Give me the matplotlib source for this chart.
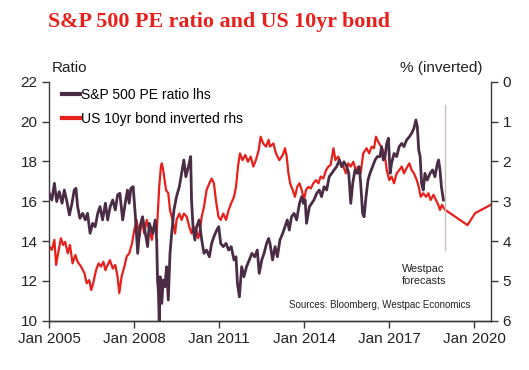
import matplotlib
matplotlib.use("Agg")
import matplotlib.pyplot as plt

# S&P 500 PE ratio (lhs), decimal years
pe_years = [
    2005.0, 2005.09, 2005.18, 2005.26, 2005.35, 2005.45, 2005.53, 2005.61, 2005.71, 2005.8,
    2005.88, 2005.94, 2006.0, 2006.08, 2006.18, 2006.27, 2006.35, 2006.44, 2006.53, 2006.62,
    2006.71, 2006.79, 2006.88, 2006.98, 2007.06, 2007.15, 2007.24, 2007.33, 2007.41, 2007.49,
    2007.59, 2007.68, 2007.76, 2007.82, 2007.88, 2007.96, 2008.04, 2008.12, 2008.2, 2008.29,
    2008.39, 2008.47, 2008.53, 2008.65, 2008.74, 2008.79, 2008.82, 2008.85, 2008.88,
    2008.91, 2008.97, 2009.02, 2009.08, 2009.14, 2009.2, 2009.26, 2009.32, 2009.4, 2009.49,
    2009.59, 2009.67, 2009.75, 2009.82, 2009.91, 2009.99, 2010.02, 2010.08, 2010.14, 2010.2,
    2010.29, 2010.38, 2010.46, 2010.55, 2010.65, 2010.73, 2010.81, 2010.91, 2010.98, 2011.05,
    2011.14, 2011.24, 2011.33, 2011.42, 2011.52, 2011.59, 2011.64, 2011.71, 2011.79, 2011.87,
    2011.96, 2012.06, 2012.15, 2012.25, 2012.34, 2012.41, 2012.5, 2012.58, 2012.67, 2012.74,
    2012.79, 2012.88, 2012.97, 2013.05, 2013.14, 2013.24, 2013.32, 2013.4, 2013.47, 2013.55,
    2013.64, 2013.73, 2013.83, 2013.91, 2013.97, 2014.03, 2014.08, 2014.18, 2014.26, 2014.34,
    2014.44, 2014.53, 2014.61, 2014.7, 2014.79, 2014.88, 2014.97, 2015.05, 2015.14, 2015.24,
    2015.32, 2015.4, 2015.5, 2015.57, 2015.64, 2015.71, 2015.79, 2015.87, 2015.94, 2015.99,
    2016.06, 2016.11, 2016.18, 2016.25, 2016.32, 2016.41, 2016.5, 2016.58, 2016.67, 2016.73,
    2016.79, 2016.85, 2016.91, 2016.97, 2017.03, 2017.08, 2017.17, 2017.26, 2017.35, 2017.44,
    2017.52, 2017.61, 2017.71, 2017.79, 2017.87, 2017.94, 2017.99, 2018.04, 2018.09, 2018.14,
    2018.2, 2018.26, 2018.34, 2018.44, 2018.53, 2018.61, 2018.7, 2018.74, 2018.79, 2018.84,
    2018.91,
]
pe_ratio = [
    16.4, 16.06, 16.9, 15.98, 16.48, 15.9, 16.56, 16.06, 15.31, 15.9,
    16.56, 16.65, 15.73, 15.14, 15.39, 15.06, 15.39, 14.39, 14.89, 14.72,
    15.39, 15.73, 15.06, 15.9, 15.06, 15.73, 16.06, 15.56, 16.31, 16.4,
    15.06, 15.9, 16.56, 15.9, 16.65, 16.73, 15.22, 13.38, 14.72, 15.22,
    14.39, 13.72, 14.89, 14.39, 15.06, 14.05, 12.04, 11.5, 10.0,
    12.21, 10.87, 12.04, 11.71, 12.71, 11.04, 13.38, 14.39, 15.56, 16.23,
    16.73, 17.4, 18.07, 17.23, 17.73, 18.24, 16.06, 14.55, 14.05, 14.72,
    15.06, 14.05, 13.38, 13.55, 13.21, 13.88, 14.22, 14.55, 14.72, 13.88,
    13.72, 13.88, 13.55, 13.72, 13.05, 13.21, 11.88, 11.2, 12.71, 12.21,
    12.71, 13.05, 13.38, 13.21, 13.55, 12.38, 13.05, 13.38, 13.88, 14.13,
    13.88, 13.05, 13.72, 13.21, 14.05, 14.39, 14.72, 15.06, 14.55, 15.22,
    15.39, 15.06, 15.89, 16.23, 15.89, 16.06, 14.89, 15.72, 15.89, 16.06,
    16.4, 16.56, 16.23, 16.73, 16.56, 17.23, 17.4, 17.57, 17.73, 18.07,
    17.73, 17.98, 17.73, 17.4, 15.89, 16.9, 17.57, 17.4, 17.73, 16.9,
    15.39, 15.22, 16.23, 17.06, 17.4, 17.73, 18.07, 18.24, 18.24, 18.74,
    18.07, 18.24, 18.9, 19.16, 17.4, 17.9, 18.4, 18.24, 18.74, 18.9,
    18.74, 19.07, 19.24, 19.41, 19.66, 20.08, 19.74, 18.57, 18.24, 16.9,
    16.56, 17.4, 17.06, 17.4, 17.57, 17.23, 17.9, 18.07, 17.57, 16.73,
    16.06,
]

# US 10yr bond yield (rhs, inverted), decimal years
bond_years = [
    2005.0, 2005.09, 2005.18, 2005.24, 2005.33, 2005.41, 2005.49, 2005.56, 2005.65, 2005.73,
    2005.82, 2005.92, 2006.0, 2006.12, 2006.24, 2006.32, 2006.41, 2006.48, 2006.55, 2006.65,
    2006.74, 2006.82, 2006.91, 2006.98, 2007.06, 2007.14, 2007.24, 2007.33, 2007.41, 2007.47,
    2007.55, 2007.65, 2007.73, 2007.82, 2007.92, 2008.0, 2008.08, 2008.18, 2008.27, 2008.35,
    2008.44, 2008.53, 2008.62, 2008.71, 2008.79, 2008.88, 2008.94,
    2008.97, 2009.02, 2009.12, 2009.2, 2009.26, 2009.35, 2009.44, 2009.49, 2009.59, 2009.67,
    2009.75, 2009.85, 2009.94, 2010.02, 2010.08, 2010.18, 2010.26, 2010.32, 2010.38, 2010.46,
    2010.55, 2010.65, 2010.73, 2010.81, 2010.88, 2010.97, 2011.05, 2011.14, 2011.24, 2011.33,
    2011.42, 2011.52, 2011.59, 2011.66, 2011.73, 2011.82, 2011.92, 2012.01, 2012.11, 2012.2,
    2012.29, 2012.39, 2012.46, 2012.55, 2012.65, 2012.74,
    2012.79, 2012.91, 2013.0, 2013.12, 2013.24, 2013.32, 2013.38, 2013.44, 2013.5, 2013.59,
    2013.67, 2013.75, 2013.83, 2013.91, 2013.99, 2014.06, 2014.14, 2014.23, 2014.32, 2014.41,
    2014.5, 2014.58, 2014.67, 2014.77, 2014.85, 2014.93, 2015.03, 2015.1, 2015.2, 2015.28,
    2015.38, 2015.47, 2015.55, 2015.64, 2015.73, 2015.82, 2015.91, 2015.99, 2016.08, 2016.2,
    2016.29, 2016.38, 2016.46, 2016.53, 2016.61,
    2016.77, 2016.85, 2016.91, 2017.0, 2017.08, 2017.17, 2017.26, 2017.35, 2017.44, 2017.52,
    2017.61, 2017.71, 2017.79, 2017.87, 2017.97, 2018.04, 2018.11, 2018.2, 2018.3, 2018.38,
    2018.46, 2018.56, 2018.65, 2018.73, 2018.79, 2018.86, 2018.93,
]
bond_yield = [
    4.14, 4.22, 3.97, 4.6, 4.23, 3.93, 4.1, 4.02, 4.31, 4.1,
    4.56, 4.35, 4.52, 4.64, 4.81, 5.06, 4.98, 5.23, 5.06, 4.73,
    4.56, 4.64, 4.52, 4.73, 4.6, 4.48, 4.69, 4.6, 4.9, 5.31,
    4.9, 4.64, 4.39, 4.31, 4.06, 3.72, 3.47, 3.89, 3.47, 3.81,
    3.47, 3.72, 3.97, 3.56, 3.81, 2.64, 2.13,
    2.05, 2.22, 2.72, 2.8, 3.22, 3.47, 3.81, 3.47, 3.31, 3.47,
    3.31, 3.39, 3.64, 3.81, 3.64, 3.72, 3.93, 3.72, 3.39, 3.14,
    2.72, 2.55, 2.43, 2.55, 2.97, 3.39, 3.47, 3.31, 3.47, 3.22,
    3.05, 2.89, 2.64, 2.13, 1.8, 1.97, 1.84, 2.01, 1.88, 2.13,
    1.97, 1.72, 1.38, 1.55, 1.63, 1.46,
    1.63, 1.55, 1.8, 1.97, 1.84, 1.67, 1.88, 2.3, 2.55, 2.72,
    2.89, 2.64, 2.55, 2.72, 2.97, 2.72, 2.64, 2.68, 2.55, 2.47,
    2.55, 2.38, 2.43, 2.22, 2.13, 2.09, 1.67, 1.97, 1.88, 2.05,
    2.13, 2.3, 2.05, 2.13, 2.01, 2.22, 2.13, 2.3, 1.8, 1.67,
    1.8, 1.63, 1.67, 1.38, 1.51,
    1.71, 1.88, 2.22, 2.47, 2.38, 2.55, 2.3, 2.22, 2.13, 2.3,
    2.17, 2.05, 2.22, 2.3, 2.47, 2.64, 2.89, 2.8, 2.89, 2.8,
    2.97, 2.84, 2.97, 3.09, 3.22, 3.09, 3.18,
]

# Westpac forecasts
fc_years = [2018.98, 2019.76, 2020.03, 2020.58]
fc_yield = [3.22, 3.6, 3.3, 3.09]

x_ticks = [2005, 2008, 2011, 2014, 2017, 2020]
x_labels = [f"Jan {y}" for y in x_ticks]

PURPLE = "#4b2c45"
RED = "#e8201c"
GREY = "#3a3a3a"

plt.rcParams["font.family"] = ["Liberation Sans", "DejaVu Sans"]

fig = plt.figure(figsize=(5.29, 3.70), dpi=100)
ax = fig.add_axes([0.0932, 0.1332, 0.8344, 0.646])
ax2 = ax.twinx()

ax.plot(pe_years, pe_ratio, color=PURPLE, lw=2.0, label="S&P 500 PE ratio lhs", zorder=3)
ax2.plot(bond_years, bond_yield, color=RED, lw=1.6, zorder=2)
ax2.plot(fc_years, fc_yield, color=RED, lw=1.6, zorder=2)
ax.plot([], [], color=RED, lw=2.0, label="US 10yr bond inverted rhs")

ax.set_xlim(2005.0, 2020.58)
ax.set_ylim(10, 22)
ax2.set_ylim(6, 0)
ax.set_yticks(range(10, 23, 2))
ax2.set_yticks(range(0, 7))
ax.set_xticks(x_ticks)
ax.set_xticklabels(x_labels)

# forecast divider
ax.plot([2018.98, 2018.98], [13.55, 20.83], color="#c8c0b8", lw=1.0, zorder=1)

ax.set_zorder(ax2.get_zorder() + 1)
ax.patch.set_visible(False)

for a in (ax, ax2):
    for side in a.spines.values():
        side.set_color(GREY)
        side.set_linewidth(1.0)
    a.tick_params(colors=GREY, labelcolor="#222222", labelsize=11, length=5, width=1.0, direction="out")
ax.spines["top"].set_visible(False)
ax2.spines["top"].set_visible(False)
ax.spines["right"].set_visible(False)
ax2.spines["left"].set_visible(False)
ax.tick_params(axis="x", pad=3)

leg = ax.legend(loc="upper left", bbox_to_anchor=(0.01, 1.01), frameon=False, fontsize=10,
                handlelength=1.3, handletextpad=0.1, labelspacing=0.75, borderaxespad=0.2)
for h in leg.get_lines():
    h.set_linewidth(3.0)

fig.text(0.0907, 0.94, "S&P 500 PE ratio and US 10yr bond", color="#e8201c",
         fontsize=15.8, fontweight="bold", family="Liberation Serif", ha="left", va="center")
fig.text(0.097, 0.815, "Ratio", fontsize=11, color="#222222", ha="left", va="center")
fig.text(0.913, 0.815, "% (inverted)", fontsize=11, color="#222222", ha="right", va="center")
ax.text(2017.44, 12.3, "Westpac\nforecasts", fontsize=7.8, color="#222222", ha="left", va="center",
        linespacing=1.3)
ax.text(2019.85, 10.8, "Sources: Bloomberg, Westpac Economics", fontsize=7, color="#222222",
        ha="right", va="center")

fig.savefig("out.png", dpi=100)
